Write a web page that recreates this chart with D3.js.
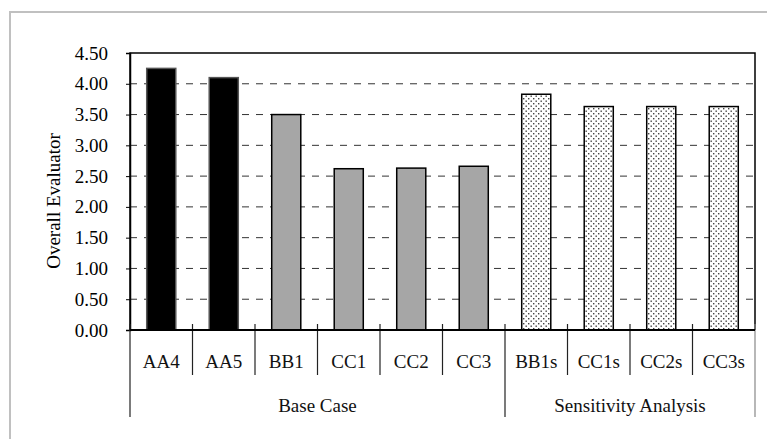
<!DOCTYPE html>
<html>
<head>
<meta charset="utf-8">
<script src="https://cdn.jsdelivr.net/npm/d3@7"></script>
<style>
  body { margin: 0; background: #fff; }
  svg text { font-family: "Liberation Serif", "Times New Roman", serif; }
</style>
</head>
<body>
<svg id="chart" width="767" height="439"></svg>
<script>
// chart data
const categories = ["AA4", "AA5", "BB1", "CC1", "CC2", "CC3", "BB1s", "CC1s", "CC2s", "CC3s"];
const values = [4.25, 4.10, 3.50, 2.62, 2.63, 2.66, 3.83, 3.63, 3.63, 3.63];
const groupNames = ["Base Case", "Sensitivity Analysis"];
const groupOf = [0, 0, 0, 0, 0, 0, 1, 1, 1, 1];
const yTicks = [0, 0.5, 1, 1.5, 2, 2.5, 3, 3.5, 4, 4.5];

const plotLeft = 130, plotRight = 755, plotTop = 53, plotBottom = 330;

const svg = d3.select("#chart");

// outer frame of the chart area
svg.append("rect")
    .attr("x", 10).attr("y", 12)
    .attr("width", 800).attr("height", 500)
    .attr("fill", "none")
    .attr("stroke", "#c0c0c0")
    .attr("stroke-width", 2);

// dotted fill used for the sensitivity runs
const pat = svg.append("defs").append("pattern")
    .attr("id", "dots")
    .attr("patternUnits", "userSpaceOnUse")
    .attr("width", 5).attr("height", 5);
pat.append("rect").attr("width", 5).attr("height", 5).attr("fill", "#fff");
pat.append("rect").attr("x", 0.5).attr("y", 0.5).attr("width", 1.4).attr("height", 1.4).attr("fill", "#444");
pat.append("rect").attr("x", 3).attr("y", 3).attr("width", 1.4).attr("height", 1.4).attr("fill", "#444");

const x = d3.scaleBand().domain(categories).range([plotLeft, plotRight]).padding(0);
const y = d3.scaleLinear().domain([0, 4.5]).range([plotBottom, plotTop]);

// dashed gridlines
svg.append("g")
    .selectAll("line")
    .data(yTicks.filter(d => d > 0 && d < 4.5))
    .join("line")
        .attr("x1", plotLeft).attr("x2", plotRight)
        .attr("y1", d => y(d)).attr("y2", d => y(d))
        .attr("stroke", "#333")
        .attr("stroke-width", 1)
        .attr("stroke-dasharray", "7,7");

// bars
const barW = x.bandwidth() * 0.465;
const fillOf = (d, i) => groupOf[i] == 1 ? "url(#dots)" : (d.startsWith("AA") ? "#000" : "#a6a6a6");
svg.append("g")
    .selectAll("rect")
    .data(categories)
    .join("rect")
        .attr("x", d => x(d) + (x.bandwidth() - barW) / 2)
        .attr("y", (d, i) => y(values[i]))
        .attr("width", barW)
        .attr("height", (d, i) => y(0) - y(values[i]))
        .attr("fill", fillOf)
        .attr("stroke", (d, i) => groupOf[i] == 0 && d.startsWith("AA") ? "#555" : "#000")
        .attr("stroke-width", 1.5);

// plot frame (top, right, left)
svg.append("path")
    .attr("d", `M${plotLeft},${plotBottom}V${plotTop}H${plotRight}V${plotBottom}`)
    .attr("fill", "none")
    .attr("stroke", "#000")
    .attr("stroke-width", 1.5);

// y axis
const yAxis = svg.append("g")
    .attr("transform", `translate(${plotLeft},0)`)
    .call(d3.axisLeft(y).tickValues(yTicks).tickFormat(d3.format(".2f")).tickSize(4).tickPadding(18));
yAxis.select(".domain").attr("stroke-width", 1.5);
yAxis.selectAll("text").attr("font-size", 19).attr("fill", "#000")
    .style("font-family", "Liberation Serif");

// y title
svg.append("text")
    .attr("transform", `translate(60,201) rotate(-90)`)
    .attr("text-anchor", "middle")
    .attr("font-size", 19)
    .text("Overall Evaluator");

// category separators
const bounds = categories.map(d => x(d)).concat([plotRight]);
const groupStarts = [];
groupOf.forEach((g, i) => { if (i == 0 || groupOf[i - 1] != g) groupStarts.push(i); });
const longB = groupStarts.map(i => x(categories[i])).concat([plotRight]);

svg.append("g")
    .selectAll("line")
    .data(bounds)
    .join("line")
        .attr("x1", d => d).attr("x2", d => d)
        .attr("y1", plotBottom - 6)
        .attr("y2", d => longB.some(b => Math.abs(b - d) < 0.5) ? 417 : 375)
        .attr("stroke", (d, i) => i == bounds.length - 1 ? "#888" : "#222")
        .attr("stroke-width", 1.2);

// x axis baseline
svg.append("line")
    .attr("x1", plotLeft).attr("x2", plotRight)
    .attr("y1", plotBottom).attr("y2", plotBottom)
    .attr("stroke", "#000")
    .attr("stroke-width", 2);

// category labels
svg.append("g")
    .selectAll("text")
    .data(categories)
    .join("text")
        .attr("x", d => x(d) + x.bandwidth() / 2)
        .attr("y", 368)
        .attr("text-anchor", "middle")
        .attr("font-size", 19)
        .attr("fill", "#111")
        .text(d => d);

// group labels
svg.append("g")
    .selectAll("text")
    .data(groupNames)
    .join("text")
        .attr("x", (d, i) => (longB[i] + longB[i + 1]) / 2)
        .attr("y", 412)
        .attr("text-anchor", "middle")
        .attr("font-size", 19)
        .attr("fill", "#111")
        .text(d => d);
</script>
</body>
</html>
